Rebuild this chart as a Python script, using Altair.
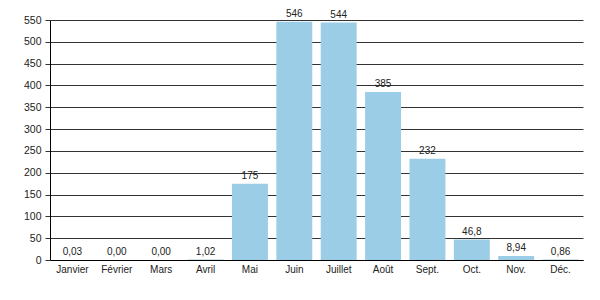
import altair as alt
import pandas as pd

months = ["Janvier", "Février", "Mars", "Avril", "Mai", "Juin", "Juillet",
          "Août", "Sept.", "Oct.", "Nov.", "Déc."]
values = [0.03, 0.00, 0.00, 1.02, 175, 546, 544, 385, 232, 46.8, 8.94, 0.86]
labels = ["0,03", "0,00", "0,00", "1,02", "175", "546", "544", "385", "232",
          "46,8", "8,94", "0,86"]
y_ticks = list(range(0, 551, 50))

df = pd.DataFrame({"mois": months, "valeur": values, "etiquette": labels})

font = "Liberation Sans"

x = alt.X("mois:N", sort=months, title=None,
          scale=alt.Scale(paddingInner=0.19, paddingOuter=0.1),
          axis=alt.Axis(labelAngle=0, ticks=False, domainColor="#000000",
                        labelColor="#222222", labelFont=font, labelFontSize=10,
                        labelPadding=4, grid=False))
y = alt.Y("valeur:Q", title=None,
          scale=alt.Scale(domain=[0, 550], nice=False),
          axis=alt.Axis(values=y_ticks, tickCount=12, labelOverlap=False,
                        labelFlush=False, grid=True, gridColor="#333333",
                        gridOpacity=1, gridWidth=1, domainColor="#000000",
                        tickColor="#333333", tickSize=5, labelColor="#222222",
                        labelFont=font, labelFontSize=10.5, labelPadding=4))

bars = alt.Chart(df).mark_bar(color="#9BCDE6").encode(x=x, y=y)
text = alt.Chart(df).mark_text(baseline="bottom", dy=-3, font=font,
                               fontSize=10, color="#222222").encode(
    x=alt.X("mois:N", sort=months), y="valeur:Q", text="etiquette:N")

chart = (bars + text).properties(
    width=533, height=240,
    padding={"left": 50, "top": 20, "right": 17, "bottom": 40},
    autosize="none",
).configure_view(stroke=None)

chart.save("out.html", embed_options={"renderer": "svg", "actions": False})
